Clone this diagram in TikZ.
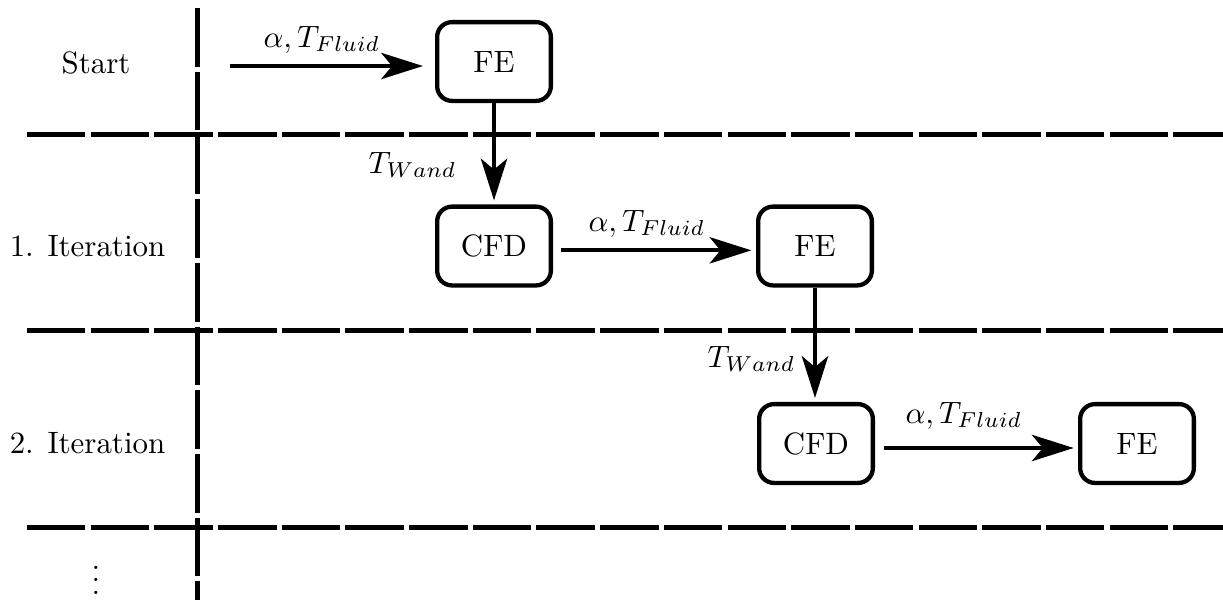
\documentclass[tikz,border=0pt]{standalone}
\usetikzlibrary{arrows.meta}
\begin{document}
\begin{tikzpicture}[x=0.32362pt,y=-0.32362pt,
  box/.style={draw,line width=1.39pt,rounded corners=4.8pt,minimum width=36.8pt,minimum height=25.5pt,inner sep=0pt},
  flow/.style={line width=1.39pt,-{Stealth[length=13.5pt,width=8.5pt,inset=3.5pt]}},
  sepline/.style={line width=1.45pt,dash pattern=on 18.93pt off 1.68pt},
  lbl/.style={anchor=base west,inner sep=0pt},
  rowlbl/.style={inner sep=0pt}]
\clip (0,0) rectangle (1223,599);
% separators
\draw[sepline] (27,134.5) -- (1240,134.5);
\draw[sepline] (27,330.5) -- (1240,330.5);
\draw[sepline] (27,527.5) -- (1240,527.5);
\draw[sepline] (197.5,8.3) -- (197.5,620);
% row labels
\node[rowlbl] (start) at (96,62.5) {Start};
\node[rowlbl] (it1) at (87.5,246.5) {1. Iteration};
\node[rowlbl] (it2) at (87.5,443.5) {2. Iteration};
\node[anchor=base,inner sep=0pt] (dots) at (96,594) {$\vdots$};
% boxes
\node[box] (fe1) at (494,61.5) {FE};
\node[box] (cfd1) at (494,246) {CFD};
\node[box] (fe2) at (815,246) {FE};
\node[box] (cfd2) at (816,443.5) {CFD};
\node[box] (fe3) at (1137,443.5) {FE};
\coordinate (in) at (230,66);
% connectors
\draw[flow,shorten >=3.9pt] (in) -- (in -| fe1.west);
\draw[flow,shorten >=1.3pt] (fe1.south) -- (cfd1.north);
\draw[flow,shorten <=2.6pt,shorten >=1.5pt] ([yshift=-1.4pt]cfd1.east) -- ([yshift=-1.4pt]fe2.west);
\draw[flow,shorten >=1.3pt] (fe2.south) -- (fe2.south |- cfd2.north);
\draw[flow,shorten <=2.8pt,shorten >=1.4pt] ([yshift=-1.45pt]cfd2.east) -- ([yshift=-1.45pt]fe3.west);
% labels
\node[lbl] (l1) at (263,47) {$\alpha,T_{Fluid}$};
\node[lbl] (w1) at (368,173) {$T_{Wand}$};
\node[lbl] (l2) at (588,231) {$\alpha,T_{Fluid}$};
\node[lbl] (w2) at (707,367) {$T_{Wand}$};
\node[lbl] (l3) at (905,423) {$\alpha,T_{Fluid}$};
\end{tikzpicture}
\end{document}
